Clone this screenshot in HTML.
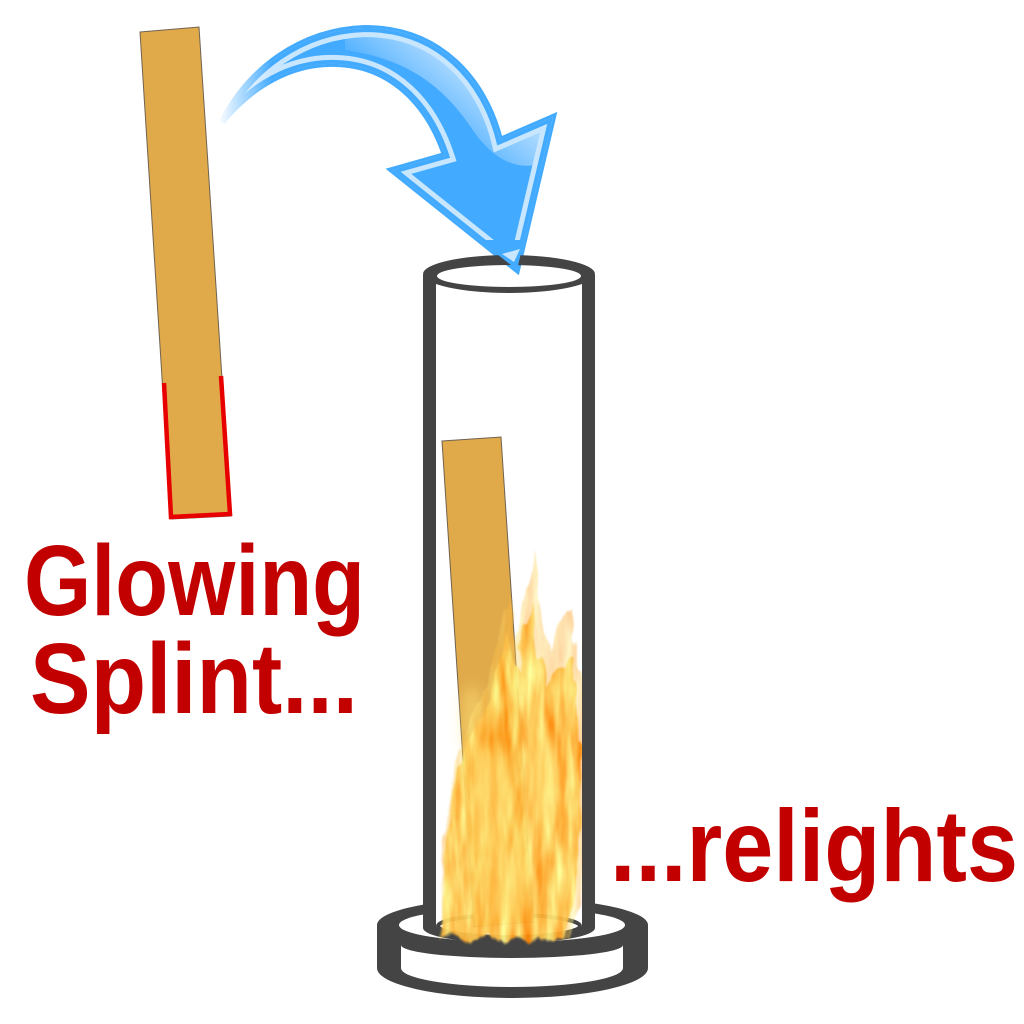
<!DOCTYPE html>
<html><head><meta charset="utf-8"><style>
html,body{margin:0;padding:0;background:#fff;}
svg{display:block;}
</style></head><body>
<svg width="1024" height="1024" viewBox="0 0 1024 1024" xmlns="http://www.w3.org/2000/svg">
<defs>
  <clipPath id="arrowClip">
    <path id="arrowShape" d="M222,122 C248,70 300,30 365,28 C440,28 485,80 500,140 L553,117 L517,270 L392,170 L445,155 C428,105 392,66 337,64 C290,62 250,88 222,122 Z"/>
  </clipPath>
  <linearGradient id="tailFade" gradientUnits="userSpaceOnUse" x1="218" y1="0" x2="272" y2="0">
    <stop offset="0" stop-color="#fff" stop-opacity="0"/>
    <stop offset="1" stop-color="#fff" stop-opacity="1"/>
  </linearGradient>
  <mask id="tailMask" maskUnits="userSpaceOnUse" x="0" y="0" width="1024" height="1024">
    <rect x="0" y="0" width="1024" height="1024" fill="url(#tailFade)"/>
  </mask>
  <linearGradient id="gloss" gradientUnits="userSpaceOnUse" x1="490" y1="70" x2="430" y2="140">
    <stop offset="0" stop-color="#fff" stop-opacity="0.7"/>
    <stop offset="1" stop-color="#fff" stop-opacity="0"/>
  </linearGradient>
  <filter id="flameTex" x="-20%" y="-20%" width="140%" height="140%" color-interpolation-filters="sRGB">
    <feTurbulence type="fractalNoise" baseFrequency="0.05 0.012" numOctaves="3" seed="7" result="n"/>
    <feDisplacementMap in="SourceGraphic" in2="n" scale="26" xChannelSelector="R" yChannelSelector="G" result="shape"/>
    <feTurbulence type="fractalNoise" baseFrequency="0.09 0.014" numOctaves="3" seed="3" result="n2"/>
    <feColorMatrix in="n2" type="matrix" values="0 0 0 0 0.99  0.75 0 0 0 0.40  0.9 0 0 0 -0.14  0 0 0 0 1" result="col"/>
    <feComposite in="col" in2="shape" operator="in" result="tex"/>
    <feGaussianBlur in="tex" stdDeviation="0.9"/>
  </filter>
  <filter id="soft" x="-50%" y="-50%" width="200%" height="200%">
    <feGaussianBlur stdDeviation="7"/>
  </filter>
</defs>

<!-- Left splint -->
<polygon points="140,32 199,27 231,516 171,519" fill="#e0aa4b" stroke="#6f6250" stroke-width="1"/>
<polyline points="164,383 171,517 230,514 221,376" fill="none" stroke="#e80000" stroke-width="4.5" stroke-linejoin="miter"/>

<!-- Arrow -->
<g mask="url(#tailMask)">
  <use href="#arrowShape" fill="#42aaff" stroke="#42aaff" stroke-width="6" stroke-linejoin="miter"/>
  <g clip-path="url(#arrowClip)">
    <path d="M345,24 C435,20 490,74 503,140 L556,116 L548,160 C520,175 492,160 470,126 C440,82 402,58 345,50 Z" fill="url(#gloss)"/>
    <use href="#arrowShape" fill="none" stroke="#c9e6ff" stroke-width="18" stroke-linejoin="miter"/>
    <use href="#arrowShape" fill="none" stroke="#42aaff" stroke-width="8" stroke-linejoin="miter"/>
  </g>
</g>

<!-- Base -->
<path d="M377,925 A135.5,27 0 0 1 648,925 L648,968 A135.5,30 0 0 1 377,968 Z" fill="#444"/>
<ellipse cx="512" cy="925" rx="113" ry="17" fill="#fff"/>
<path d="M401,945 A111,13 0 0 0 623,945 L623,968 A111,19 0 0 1 401,968 Z" fill="#fff"/>

<!-- Tube body -->
<path d="M423,275 L423,928 A86,15 0 0 0 595,928 L595,275 Z" fill="#444"/>
<path d="M436,275 L436,926 A73,12 0 0 0 582,926 L582,275 Z" fill="#fff"/>
<ellipse cx="509" cy="926" rx="71" ry="11" fill="#fff" stroke="#444" stroke-width="4"/>

<!-- Splint inside -->
<polygon points="442,441 501,437 533,922 474,927" fill="#e0aa4b" stroke="#6f6250" stroke-width="1"/>

<!-- Flames -->
<g filter="url(#flameTex)">
  <path d="M442,940 C440,870 446,810 455,770 C462,735 472,705 484,680 C492,650 502,620 510,596 C515,615 518,630 521,640 C525,605 528,575 531,550 C538,585 542,620 546,650 C552,632 560,618 568,606 C574,650 584,700 592,745 C588,810 582,875 572,940 Z" fill="#000" fill-opacity="0.42"/>
  <path d="M444,938 C443,870 448,810 458,772 C466,742 476,718 488,695 C496,668 504,648 510,630 C514,648 516,662 520,672 C524,645 528,618 532,600 C538,635 541,665 544,690 C552,676 562,664 572,655 C575,700 580,745 584,775 C581,830 575,890 563,938 Z" fill="#000" fill-opacity="0.9"/>
</g>
<g filter="url(#soft)" fill="#ffe47a" opacity="0.55">
  <ellipse cx="490" cy="800" rx="20" ry="55"/>
  <ellipse cx="545" cy="780" rx="16" ry="45"/>
  <ellipse cx="505" cy="885" rx="26" ry="38"/>
  <ellipse cx="472" cy="720" rx="10" ry="35"/>
</g>

<!-- Tube walls on top -->
<rect x="423" y="275" width="13" height="652" fill="#444"/>
<rect x="582" y="275" width="13" height="652" fill="#444"/>
<path fill-rule="evenodd" fill="#444" d="M423,274 A86,19 0 1 0 595,274 A86,19 0 1 0 423,274 Z M437,276 A72,11 0 1 0 581,276 A72,11 0 1 0 437,276 Z"/>

<!-- Arrow tip over tube rim -->
<g clip-path="url(#arrowClip)">
  <rect x="480" y="240" width="60" height="40" fill="#42aaff"/>
  <polygon points="502,254 520,249 514,262" fill="#c9e6ff"/>
</g>

<!-- Text -->
<g fill="#c20000" font-family="'Liberation Sans', sans-serif" font-weight="bold">
  <text x="24" y="615" font-size="100" textLength="341" lengthAdjust="spacingAndGlyphs">Glowing</text>
  <text x="30" y="713" font-size="100" textLength="328" lengthAdjust="spacingAndGlyphs">Splint...</text>
  <text x="610" y="881" font-size="102" textLength="408" lengthAdjust="spacingAndGlyphs">...relights</text>
</g>
</svg>
</body></html>
